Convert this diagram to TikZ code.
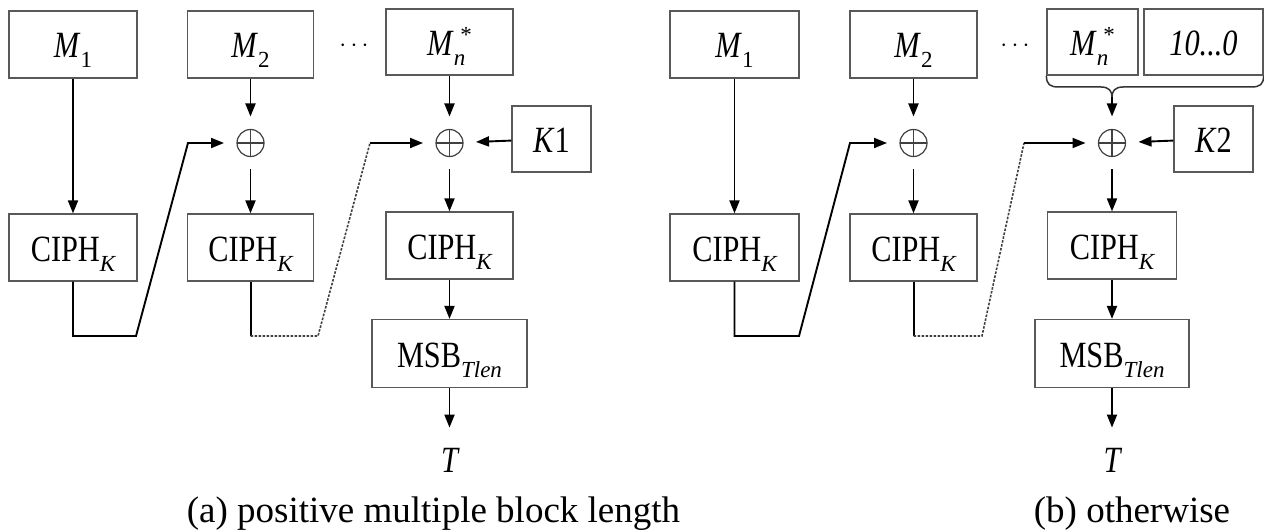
\documentclass[tikz,border=0pt]{standalone}
\usepackage{fontspec}
\setmainfont{Liberation Serif}
\newfontfamily\blkfont[FakeStretch=0.82]{Liberation Serif}
\usetikzlibrary{arrows.meta}
\newcommand{\lowsub}[1]{\raisebox{-10pt}{\fontsize{23}{23}\selectfont\rmfamily #1}}
\newcommand{\lastmsg}{\textit{M}\lowsub{\itshape n}\kern-5pt\raisebox{13pt}{\fontsize{23}{23}\selectfont\rmfamily *}}

\begin{document}
\begin{tikzpicture}[x=1pt, y=-1pt,
  blk/.style={draw=black!65, line width=1.2pt, inner sep=0pt, minimum height=67pt,
    text height=29pt, text depth=2pt, font=\blkfont\fontsize{37}{37}\selectfont},
  xor/.style={circle, draw=black!75, line width=1.2pt, minimum size=27pt, inner sep=0pt, outer sep=13pt,
    path picture={\draw[line width=1.2pt, black!75] (path picture bounding box.north) -- (path picture bounding box.south)
      (path picture bounding box.west) -- (path picture bounding box.east);}},
  flow/.style={line width=1.9pt, -{Triangle[length=13pt, width=10pt]}},
  link/.style={line width=2pt},
  dotlink/.style={line width=1.6pt, black!75, dash pattern=on 2.5pt off 1.5pt},
  outlbl/.style={inner sep=0pt, font=\blkfont\fontsize{37}{37}\selectfont\itshape},
  dotrow/.style={inner sep=0pt, font=\fontsize{34}{34}\selectfont},
  caption/.style={anchor=base, inner sep=0pt, font=\fontsize{37}{37}\selectfont}]
  \useasboundingbox (0,0) rectangle (1264,532);

  % (a) positive multiple block length
  \node[blk, minimum width=128pt] (m1) at (73,44.5) {\textit{M}\lowsub{1}};
  \node[blk, minimum width=126pt] (m2) at (250.5,44.5) {\textit{M}\lowsub{2}};
  \node[dotrow] (dotsa) at (354,46) {$\cdots$};
  \node[blk, minimum width=127pt, minimum height=66pt] (mna) at (449.5,42) {\lastmsg};
  \node[blk, minimum width=79pt, minimum height=66pt] (k1) at (551.5,139) {\textit{K}1};
  \node[xor] (xa2) at (250.5,143) {};
  \node[xor] (xan) at (449.5,143) {};
  \node[blk, minimum width=128pt] (ca1) at (73,247.5) {CIPH\lowsub{\itshape K}};
  \node[blk, minimum width=126pt] (ca2) at (250.5,247.5) {CIPH\lowsub{\itshape K}};
  \node[blk, minimum width=127pt] (ca3) at (449.5,245.5) {CIPH\lowsub{\itshape K}};
  \node[blk, minimum width=155pt, minimum height=68pt] (msba) at (449.5,353.5) {MSB\lowsub{\itshape Tlen}};
  \node[outlbl, anchor=base] (ta) at (449.5,472) {T};

  \draw[flow] (m1) -- (ca1);
  \draw[flow] (m2) -- (xa2);
  \draw[flow] (xa2) -- (ca2);
  \draw[flow] (mna) -- (xan);
  \draw[flow] (k1) -- (xan);
  \draw[flow] (xan) -- (ca3);
  \draw[flow] (ca3) -- (msba);
  \draw[flow, shorten >=20pt] (msba) -- (ta);
  \draw[flow] (ca1) -- (73,336) -- (136,336) -- (188,143) -- (xa2);
  \coordinate (da1) at (250.5,336);
  \coordinate (da2) at (370,143);
  \draw[link] (ca2) -- (da1);
  \draw[dotlink] (da1) -- (318,336) -- (da2);
  \draw[flow] (da2) -- (xan);
  \node[caption] (capa) at (433.5,522) {(a) positive multiple block length};

  % (b) otherwise
  \node[blk, minimum width=129pt] (m1b) at (734.5,44.5) {\textit{M}\lowsub{1}};
  \node[blk, minimum width=127pt] (m2b) at (913.5,44.5) {\textit{M}\lowsub{2}};
  \node[dotrow] (dotsb) at (1015,46) {$\cdots$};
  \node[blk, minimum width=91pt, minimum height=66pt] (mnb) at (1092.5,42) {\lastmsg};
  \node[blk, minimum width=119pt, minimum height=66pt] (padb) at (1203.5,42) {\textit{10...0}};
  \node[blk, minimum width=79pt, minimum height=66pt] (k2) at (1213.5,139) {\textit{K}2};
  \node[xor] (xb2) at (913.5,143) {};
  \node[xor] (xbn) at (1112,143) {};
  \node[blk, minimum width=129pt] (cb1) at (734.5,247.5) {CIPH\lowsub{\itshape K}};
  \node[blk, minimum width=127pt] (cb2) at (913.5,247.5) {CIPH\lowsub{\itshape K}};
  \node[blk, minimum width=129pt] (cb3) at (1112,245.5) {CIPH\lowsub{\itshape K}};
  \node[blk, minimum width=154pt, minimum height=68pt] (msbb) at (1112,353.5) {MSB\lowsub{\itshape Tlen}};
  \node[outlbl, anchor=base] (tb) at (1112,472) {T};

  \coordinate (tipb) at (1112,97);
  \draw[line width=1.5pt, black!80] (mnb.south west) .. controls +(0,9) and +(-9,0) .. (1059,87) -- (1101,87)
    .. controls +(8,0) and +(0,-6) .. (tipb) .. controls +(0,-6) and +(-8,0) .. (1123,87) -- (1251,87)
    .. controls +(9,0) and +(0,9) .. (padb.south east);
  \draw[flow] (m1b) -- (cb1);
  \draw[flow] (m2b) -- (xb2);
  \draw[flow] (xb2) -- (cb2);
  \draw[flow] (tipb) -- (xbn);
  \draw[flow] (k2) -- (xbn);
  \draw[flow] (xbn) -- (cb3);
  \draw[flow] (cb3) -- (msbb);
  \draw[flow, shorten >=20pt] (msbb) -- (tb);
  \draw[flow] (cb1) -- (734.5,336) -- (799,336) -- (850,143) -- (xb2);
  \coordinate (db1) at (913.5,336);
  \coordinate (db2) at (1024,143);
  \draw[link] (cb2) -- (db1);
  \draw[dotlink] (db1) -- (982,336) -- (db2);
  \draw[flow] (db2) -- (xbn);
  \node[caption] (capb) at (1132,522) {(b) otherwise};
\end{tikzpicture}
\end{document}
